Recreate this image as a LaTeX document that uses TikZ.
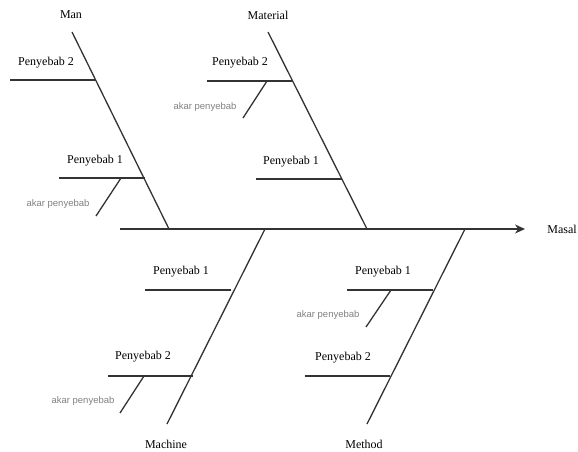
\documentclass[tikz,border=0pt]{standalone}
\usepackage{fontspec}
\setmainfont{Liberation Serif}
\newfontfamily\akarfont{Liberation Sans}
\usetikzlibrary{arrows.meta}
\definecolor{bone}{HTML}{333333}
\definecolor{akargray}{HTML}{808080}
\begin{document}
\begin{tikzpicture}[x=1pt,y=-1pt,
  boneline/.style={draw=bone,line width=1.3pt},
  lbl/.style={inner sep=0pt,font=\fontsize{12}{14}\selectfont,text=black},
  akar/.style={inner sep=0pt,font=\akarfont\fontsize{9.5}{11}\selectfont,text=akargray}]
\useasboundingbox (0,0) rectangle (578,451);
% spine
\coordinate (s0) at (120,229);
\coordinate (s1) at (525,229);
\draw[boneline,-{Stealth[length=10pt,width=9pt]}] (s0) -- (s1);
\node[lbl] (masal) at (562,229) {Masal};
% Man
\coordinate (manT) at (72,32);
\coordinate (manB) at (169,229);
\draw[boneline] (manT) -- (manB);
\node[lbl] (man) at (71,15) {Man};
\coordinate (m2a) at (10,80); \coordinate (m2b) at (96,80);
\draw[boneline] (m2a) -- (m2b);
\node[lbl] (m2l) at (46,63) {Penyebab 2};
\coordinate (m1a) at (59,178); \coordinate (m1b) at (145,178);
\draw[boneline] (m1a) -- (m1b);
\node[lbl] (m1l) at (95,161) {Penyebab 1};
\coordinate (ma1) at (121,178); \coordinate (ma2) at (96,216);
\draw[boneline] (ma1) -- (ma2);
\node[akar] (mak) at (58,204) {akar penyebab};
% Material
\coordinate (matT) at (268,32);
\coordinate (matB) at (367,229);
\draw[boneline] (matT) -- (matB);
\node[lbl] (mat) at (268,15) {Material};
\coordinate (t2a) at (207,81); \coordinate (t2b) at (292,81);
\draw[boneline] (t2a) -- (t2b);
\node[lbl] (t2l) at (240,63) {Penyebab 2};
\coordinate (ta1) at (267,81); \coordinate (ta2) at (243,118);
\draw[boneline] (ta1) -- (ta2);
\node[akar] (tak) at (205,107) {akar penyebab};
\coordinate (t1a) at (256,179); \coordinate (t1b) at (342,179);
\draw[boneline] (t1a) -- (t1b);
\node[lbl] (t1l) at (291,162) {Penyebab 1};
% Machine
\coordinate (macT) at (265,229);
\coordinate (macB) at (167,424);
\draw[boneline] (macT) -- (macB);
\node[lbl] (mac) at (166,444) {Machine};
\coordinate (c1a) at (145,290); \coordinate (c1b) at (231,290);
\draw[boneline] (c1a) -- (c1b);
\node[lbl] (c1l) at (181,272) {Penyebab 1};
\coordinate (c2a) at (108,376); \coordinate (c2b) at (193,376);
\draw[boneline] (c2a) -- (c2b);
\node[lbl] (c2l) at (143,357) {Penyebab 2};
\coordinate (ca1) at (144,376); \coordinate (ca2) at (120,413);
\draw[boneline] (ca1) -- (ca2);
\node[akar] (cak) at (83,401) {akar penyebab};
% Method
\coordinate (metT) at (465,229);
\coordinate (metB) at (367,424);
\draw[boneline] (metT) -- (metB);
\node[lbl] (met) at (364,444) {Method};
\coordinate (e1a) at (347,290); \coordinate (e1b) at (433,290);
\draw[boneline] (e1a) -- (e1b);
\node[lbl] (e1l) at (383,272) {Penyebab 1};
\coordinate (ea1) at (391,290); \coordinate (ea2) at (366,327);
\draw[boneline] (ea1) -- (ea2);
\node[akar] (eak) at (328,315) {akar penyebab};
\coordinate (e2a) at (305,376); \coordinate (e2b) at (390,376);
\draw[boneline] (e2a) -- (e2b);
\node[lbl] (e2l) at (343,358) {Penyebab 2};
\end{tikzpicture}
\end{document}
